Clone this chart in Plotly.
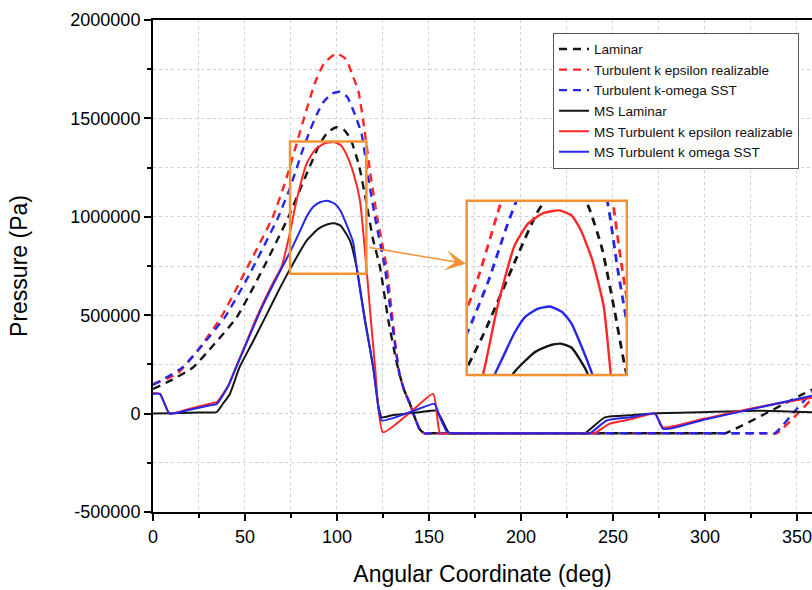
import plotly.graph_objects as go

# ---------------- data ----------------
lam_x = [0, 10, 21.8, 33, 45.5, 60, 73.5, 84, 90.8, 95, 99.8, 104, 107.4, 112, 116, 119.5, 123.4,
         128, 132, 134, 136.5, 139.7, 142.5, 145, 147.5, 152, 230, 306, 311, 351.6, 358.2]
lam_y = [125e3, 170e3, 235e3, 350e3, 489e3, 740e3, 997e3, 1229e3, 1372e3, 1430e3, 1455e3, 1440e3,
         1395e3, 1260e3, 1070e3, 890e3, 743e3, 470e3, 280e3, 200e3, 120e3, 49e3, -25e3, -80e3,
         -100e3, -100e3, -100e3, -100e3, -100e3, 91e3, 122e3]

keps_x = [0, 13.5, 25, 37, 50, 65, 72, 78, 83, 88, 93, 99.8, 105, 108, 111.6, 115, 118, 122, 127,
          129.5, 132, 134, 136.5, 139.7, 142.5, 145, 147.5, 152, 250, 334, 339, 358.2]
keps_y = [150e3, 205e3, 330e3, 489e3, 720e3, 997e3, 1180e3, 1370e3, 1530e3, 1680e3, 1780e3, 1830e3,
          1800e3, 1730e3, 1640e3, 1440e3, 1230e3, 990e3, 743e3, 540e3, 330e3, 200e3, 120e3, 49e3,
          -25e3, -80e3, -100e3, -100e3, -100e3, -100e3, -100e3, 76e3]

ksst_x = [0, 16, 27, 39, 52, 68, 75, 81, 85.3, 89, 92.6, 97, 101.6, 105.5, 108.9, 113.4, 117, 121,
          126, 129, 132, 134, 136.5, 139.7, 142.5, 145, 147.5, 152, 250, 333, 338, 350, 358.2]
ksst_y = [145e3, 235e3, 350e3, 489e3, 700e3, 997e3, 1160e3, 1330e3, 1438e3, 1520e3, 1582e3, 1625e3,
          1635e3, 1610e3, 1540e3, 1421e3, 1200e3, 980e3, 743e3, 530e3, 320e3, 200e3, 120e3, 49e3,
          -25e3, -80e3, -100e3, -100e3, -100e3, -100e3, -100e3, 25e3, 110e3]

ms_lam_x = [0, 10, 20, 30, 34.6, 38, 41.8, 47, 54, 61, 68, 75, 83.5, 90, 95, 98.5, 102, 107, 110.7,
            115, 119.7, 122.5, 124.3, 130, 138, 146, 154, 157, 161, 165, 200, 231, 234.8, 245.6,
            260, 273.7, 297, 328, 358.2]
ms_lam_y = [0, 2e3, 4e3, 6e3, 7e3, 50e3, 100e3, 235e3, 360e3, 489e3, 620e3, 743e3, 879e3, 940e3,
            962e3, 967e3, 955e3, 880e3, 743e3, 490e3, 235e3, 40e3, -19e3, -8e3, 0, 8e3, 15e3,
            -30e3, -100e3, -100e3, -100e3, -100e3, -100e3, -19e3, -8e3, 2e3, 7e3, 15e3, 7e3]

ms_keps_x = [0, 3.8, 9, 20, 30, 34.6, 40.9, 45, 50, 55, 60, 65, 70, 74, 78, 83.5, 88, 93, 98, 102,
             105, 108.8, 112.5, 116, 120.7, 125, 140, 152.3, 156, 160, 200, 236, 240, 248, 260, 273,
             277.3, 300, 330, 358.2]
ms_keps_y = [105e3, 100e3, 0, 25e3, 48e3, 58e3, 142e3, 235e3, 345e3, 460e3, 565e3, 660e3, 750e3,
             900e3, 1082e3, 1270e3, 1340e3, 1372e3, 1380e3, 1365e3, 1320e3, 1226e3, 1082e3, 743e3,
             235e3, -95e3, 8e3, 100e3, -100e3, -100e3, -100e3, -100e3, -100e3, -52e3, -28e3, 0,
             -70e3, -25e3, 35e3, 80e3]

ms_ksst_x = [0, 3.8, 9, 20, 30, 34.6, 40.9, 45, 50, 55, 60, 65, 70, 75, 80, 83.5, 87, 91, 95, 99,
             102, 105, 108.8, 110.7, 115, 119.7, 122.5, 124.3, 140, 153, 156, 159.6, 162, 166, 200,
             233, 237.5, 246.6, 260, 272.8, 277.3, 300, 330, 358.2]
ms_ksst_y = [100e3, 100e3, 0, 20e3, 40e3, 49e3, 140e3, 230e3, 340e3, 450e3, 555e3, 650e3, 740e3,
             830e3, 930e3, 1000e3, 1050e3, 1075e3, 1082e3, 1065e3, 1030e3, 965e3, 870e3, 743e3,
             480e3, 235e3, 30e3, -35e3, 8e3, 49e3, -20e3, -90e3, -100e3, -100e3, -100e3, -100e3,
             -100e3, -35e3, -18e3, 0, -78e3, -30e3, 32e3, 91e3]

series_names = ["Laminar", "Turbulent k epsilon realizable", "Turbulent k-omega SST",
                "MS Laminar", "MS Turbulent k epsilon realizable", "MS Turbulent k omega SST"]

x_ticks = [0, 50, 100, 150, 200, 250, 300, 350]
y_ticks = [-500000, 0, 500000, 1000000, 1500000, 2000000]
y_tick_labels = ["-500000", "0", "500000", "1000000", "1500000", "2000000"]

# zoom window marked on the main plot, and the range shown in the inset
box_x = [74.5, 116]
box_y = [710000, 1383000]
inset_x_range = [68, 120]
inset_y_range = [870000, 1410000]
arrow_tail = (116.8, 845000)
arrow_head = (170, 762000)

# ---------------- styles ----------------
BLACK = "#151515"
RED = "#ff2626"
BLUE = "#2626e8"
ORANGE = "#f39233"
DASH = "8px,6px"
FONT = "Liberation Sans, Arial, sans-serif"

styles = [
    dict(color=BLACK, dash=DASH, width=2.4),
    dict(color=RED, dash=DASH, width=2.4),
    dict(color=BLUE, dash=DASH, width=2.4),
    dict(color=BLACK, width=2),
    dict(color=RED, width=2),
    dict(color=BLUE, width=2),
]
data = [(lam_x, lam_y), (keps_x, keps_y), (ksst_x, ksst_y),
        (ms_lam_x, ms_lam_y), (ms_keps_x, ms_keps_y), (ms_ksst_x, ms_ksst_y)]

fig = go.Figure()
for (xs, ys), name, st in zip(data, series_names, styles):
    fig.add_trace(go.Scatter(x=xs, y=ys, mode="lines", name=name,
                             line=dict(shape="spline", smoothing=0.5, **st),
                             xaxis="x", yaxis="y"))
for (xs, ys), name, st in zip(data, series_names, styles):
    st2 = dict(st)
    st2["width"] = st["width"] + 0.4
    fig.add_trace(go.Scatter(x=xs, y=ys, mode="lines", name=name,
                             line=dict(shape="spline", smoothing=0.5, **st2),
                             xaxis="x2", yaxis="y2", showlegend=False, hoverinfo="skip"))

grid = dict(gridcolor="#d2d2d2", griddash="dot", gridwidth=1)

fig.update_layout(
    template="none",
    width=812, height=590,
    margin=dict(l=153, r=0, t=20, b=78),
    paper_bgcolor="white", plot_bgcolor="rgba(0,0,0,0)",
    font=dict(family=FONT, color="black"),
    showlegend=True,
    legend=dict(x=0.607, y=0.974, xanchor="left", yanchor="top",
                bgcolor="white", bordercolor="#555555", borderwidth=1,
                font=dict(size=13.5, family=FONT, color="#111111"),
                tracegroupgap=0),
    xaxis=dict(domain=[0, 1], range=[0, 358.2], tickmode="array", tickvals=x_ticks,
               ticks="outside", ticklen=7, tickwidth=2, tickcolor="black",
               showline=True, linecolor="black", linewidth=2, mirror=True,
               showgrid=True, zeroline=False, automargin=False,
               tickfont=dict(size=18, family=FONT, color="black"),
               title=dict(text="Angular Coordinate (deg)", font=dict(size=23, family=FONT),
                          standoff=20),
               minor=dict(tickmode="linear", tick0=0, dtick=25, ticks="outside", ticklen=4,
                          tickwidth=1.5, tickcolor="black", showgrid=True, **grid),
               **grid),
    yaxis=dict(domain=[0, 1], range=[-500000, 2000000], tickmode="array", tickvals=y_ticks,
               ticktext=y_tick_labels,
               ticks="outside", ticklen=7, tickwidth=2, tickcolor="black",
               showline=True, linecolor="black", linewidth=2, mirror=False,
               showgrid=True, zeroline=False, automargin=False,
               tickfont=dict(size=18, family=FONT, color="black"),
               title=dict(text="Pressure (Pa)", font=dict(size=23, family=FONT), standoff=36),
               minor=dict(tickmode="linear", tick0=0, dtick=250000, ticks="outside", ticklen=4,
                          tickwidth=1.5, tickcolor="black", showgrid=True, **grid),
               **grid),
    xaxis2=dict(domain=[0.476, 0.719], range=inset_x_range, anchor="y2",
                showticklabels=False, showgrid=False, zeroline=False, showline=False, ticks=""),
    yaxis2=dict(domain=[0.2785, 0.6327], range=inset_y_range, anchor="x2",
                showticklabels=False, showgrid=False, zeroline=False, showline=False, ticks=""),
    shapes=[
        dict(type="rect", xref="x", yref="y", x0=box_x[0], x1=box_x[1], y0=box_y[0], y1=box_y[1],
             line=dict(color=ORANGE, width=2.5), layer="above"),
        dict(type="rect", xref="x2 domain", yref="y2 domain", x0=0, x1=1, y0=0, y1=1,
             line=dict(color=ORANGE, width=2.5), layer="above"),
    ],
    annotations=[
        dict(x=arrow_head[0], y=arrow_head[1], ax=arrow_tail[0], ay=arrow_tail[1],
             xref="x", yref="y", axref="x", ayref="y", text="", showarrow=True,
             arrowhead=3, arrowsize=2.3, arrowwidth=1.5, arrowcolor=ORANGE, standoff=0),
    ],
)

fig.write_html("out.html")
